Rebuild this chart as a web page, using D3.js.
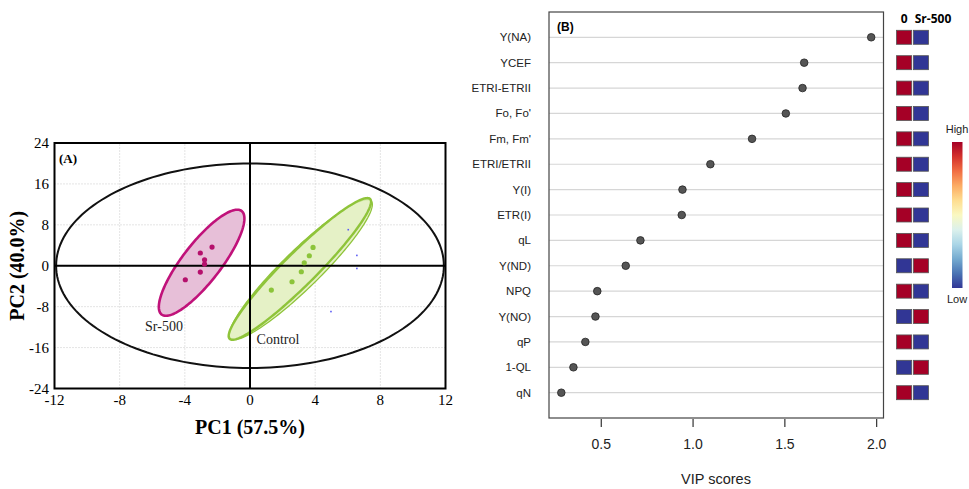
<!doctype html>
<html lang="en">
<head>
<meta charset="utf-8">
<title>PCA scores and VIP scores</title>
<script src="https://cdn.jsdelivr.net/npm/d3@7"></script>
<style>
  body { margin: 0; background: #fff; }
  svg { display: block; }
</style>
</head>
<body>
<svg id="chart" width="969" height="489"></svg>
<script>
// ---- panel A: PCA scores ----
const pcTicksX = [-12, -8, -4, 0, 4, 8, 12];
const pcTicksY = [-24, -16, -8, 0, 8, 16, 24];
const srPoints = [[-2.33, 3.66], [-3.05, 2.49], [-2.79, 1.17], [-2.79, 0.33], [-3.05, -1.23], [-3.97, -2.74]];
const ctrlPoints = [[3.87, 3.58], [3.64, 1.96], [3.33, 0.59], [3.15, -1.17], [2.58, -3.13], [1.31, -4.76]];
const strayPoints = [[6.03, 7.05], [6.56, 2.02], [6.56, -0.53], [4.97, -8.96]];
// ellipse = [centre, conjugate half-axis A, conjugate half-axis B] in data units
const hotelling = [[0, 0], [0, 20], [11.9, 0]];
const srEllipse = [[-2.97, 0.59], [2.19, 10.37], [1.45, 0]];
const ctrlEllipse = [[3.06, -0.62], [4.14, 13.86], [1.4, 0]];
const ctrlEllipse2 = [[3.12, -0.75], [4.08, 13.7], [1.62, 0]];

// ---- panel B: VIP scores ----
const vipNames = ["Y(NA)", "YCEF", "ETRI-ETRII", "Fo, Fo'", "Fm, Fm'", "ETRI/ETRII", "Y(I)", "ETR(I)", "qL", "Y(ND)", "NPQ", "Y(NO)", "qP", "1-QL", "qN"];
const vipScores = [1.973, 1.608, 1.599, 1.508, 1.324, 1.097, 0.945, 0.941, 0.716, 0.636, 0.481, 0.471, 0.416, 0.351, 0.285];
const groups = ["0", "Sr-500"];
// 1 = high, 0 = low relative concentration
const heatControl = [1, 1, 1, 1, 1, 1, 1, 1, 1, 0, 1, 0, 1, 0, 1];
const heatSr = [0, 0, 0, 0, 0, 0, 0, 0, 0, 1, 0, 1, 0, 1, 0];
const vipTicks = [0.5, 1.0, 1.5, 2.0];

const svg = d3.select("#chart");
const serif = "'Liberation Serif', 'DejaVu Serif', serif";
const sans = "'Liberation Sans', Arial, sans-serif";

// ================= Panel A =================
const ax = d3.scaleLinear().domain([-12, 12]).range([54.5, 445.5]);
const ay = d3.scaleLinear().domain([-24, 24]).range([388.5, 143]);
const gA = svg.append("g");

gA.selectAll("line.gx").data(pcTicksX.slice(1, -1)).join("line")
  .attr("x1", d => ax(d)).attr("x2", d => ax(d))
  .attr("y1", ay(-24)).attr("y2", ay(24))
  .attr("stroke", "#c8c8c8").attr("stroke-width", 1).attr("stroke-dasharray", "1,2");
gA.selectAll("line.gy").data(pcTicksY.slice(1, -1)).join("line")
  .attr("y1", d => ay(d)).attr("y2", d => ay(d))
  .attr("x1", ax(-12)).attr("x2", ax(12))
  .attr("stroke", "#c8c8c8").attr("stroke-width", 1).attr("stroke-dasharray", "1,2");

function ellipsePath(e) {
  const [c, A, B] = e;
  const pts = d3.range(0, 2 * Math.PI, Math.PI / 90).map(t => [
    ax(c[0] + Math.cos(t) * A[0] + Math.sin(t) * B[0]),
    ay(c[1] + Math.cos(t) * A[1] + Math.sin(t) * B[1])
  ]);
  return d3.line().curve(d3.curveLinearClosed)(pts);
}

gA.append("path").attr("d", ellipsePath(hotelling))
  .attr("fill", "none").attr("stroke", "#111").attr("stroke-width", 2);

gA.append("path").attr("d", ellipsePath(srEllipse))
  .attr("fill", "#e7bfd8").attr("stroke", "#c0127a").attr("stroke-width", 2.6);
gA.append("path").attr("d", ellipsePath(ctrlEllipse2))
  .attr("fill", "#e5f1c6").attr("stroke", "#8fc43a").attr("stroke-width", 1.3);
gA.append("path").attr("d", ellipsePath(ctrlEllipse))
  .attr("fill", "#e5f1c6").attr("fill-opacity", 0.6).attr("stroke", "#8fc43a").attr("stroke-width", 2.4);

// zero lines
gA.append("line").attr("x1", ax(0)).attr("x2", ax(0)).attr("y1", ay(-24)).attr("y2", ay(24))
  .attr("stroke", "#000").attr("stroke-width", 2);
gA.append("line").attr("y1", ay(0)).attr("y2", ay(0)).attr("x1", ax(-12)).attr("x2", ax(12))
  .attr("stroke", "#000").attr("stroke-width", 2);

gA.selectAll("circle.sr").data(srPoints).join("circle")
  .attr("cx", d => ax(d[0])).attr("cy", d => ay(d[1])).attr("r", 2.6).attr("fill", "#b5106c");
gA.selectAll("circle.ct").data(ctrlPoints).join("circle")
  .attr("cx", d => ax(d[0])).attr("cy", d => ay(d[1])).attr("r", 2.6).attr("fill", "#8cc43a");
gA.selectAll("rect.stray").data(strayPoints).join("rect")
  .attr("x", d => ax(d[0]) - 0.8).attr("y", d => ay(d[1]) - 0.8).attr("width", 1.6).attr("height", 1.6)
  .attr("fill", "#5c5cf5");

// frame
gA.append("rect").attr("x", ax(-12)).attr("y", ay(24))
  .attr("width", ax(12) - ax(-12)).attr("height", ay(-24) - ay(24))
  .attr("fill", "none").attr("stroke", "#000").attr("stroke-width", 2);

gA.selectAll("text.tx").data(pcTicksX).join("text")
  .attr("x", d => ax(d)).attr("y", 405)
  .attr("text-anchor", "middle").attr("font-family", serif).attr("font-size", 15)
  .text(d => d);
gA.selectAll("text.ty").data(pcTicksY).join("text")
  .attr("x", 49).attr("y", d => ay(d) + 5)
  .attr("text-anchor", "end").attr("font-family", serif).attr("font-size", 15)
  .text(d => d);

gA.append("text").attr("x", 59).attr("y", 163)
  .attr("font-family", serif).attr("font-size", 13).attr("font-weight", "bold").text("(A)");
gA.append("text").attr("x", 164).attr("y", 331).attr("text-anchor", "middle")
  .attr("font-family", serif).attr("font-size", 14).attr("fill", "#222").text("Sr-500");
gA.append("text").attr("x", 278).attr("y", 344).attr("text-anchor", "middle")
  .attr("font-family", serif).attr("font-size", 14).attr("fill", "#222").text("Control");

gA.append("text").attr("x", ax(0)).attr("y", 434).attr("text-anchor", "middle")
  .attr("font-family", serif).attr("font-size", 20).attr("font-weight", "bold").text("PC1 (57.5%)");
gA.append("text").attr("transform", `translate(24,${ay(0)}) rotate(-90)`).attr("text-anchor", "middle")
  .attr("font-family", serif).attr("font-size", 20).attr("font-weight", "bold").text("PC2 (40.0%)");

// ================= Panel B =================
const bx = d3.scaleLinear().domain([0.218, 2.04]).range([549, 883.5]);
const by = d3.scalePoint().domain(vipNames).range([37.3, 392.7]);
const gB = svg.append("g");

gB.selectAll("line.row").data(vipNames).join("line")
  .attr("x1", bx.range()[0]).attr("x2", bx.range()[1])
  .attr("y1", d => by(d)).attr("y2", d => by(d))
  .attr("stroke", "#d6d6d6").attr("stroke-width", 1.2);

gB.append("rect").attr("x", 549).attr("y", 12).attr("width", 883.5 - 549).attr("height", 418 - 12)
  .attr("fill", "none").attr("stroke", "#444").attr("stroke-width", 1.2);

gB.selectAll("circle.vip").data(vipNames).join("circle")
  .attr("cx", (d, i) => bx(vipScores[i])).attr("cy", d => by(d)).attr("r", 3.8)
  .attr("fill", "#555").attr("stroke", "#222").attr("stroke-width", 0.8);

gB.selectAll("text.row").data(vipNames).join("text")
  .attr("x", 531).attr("y", d => by(d) + 4)
  .attr("text-anchor", "end").attr("font-family", sans).attr("font-size", 11.5).attr("fill", "#222")
  .text(d => d);

const xAxisB = d3.axisBottom(bx).tickValues(vipTicks).tickFormat(d3.format(".1f")).tickSize(8).tickPadding(12);
const axisG = gB.append("g").attr("transform", "translate(0,419)").call(xAxisB);
axisG.select(".domain").remove();
axisG.selectAll(".tick line").attr("stroke", "#333").attr("stroke-width", 1.2);
axisG.selectAll(".tick text").attr("font-family", sans).attr("font-size", 14).attr("fill", "#222");

gB.append("text").attr("x", 716).attr("y", 484).attr("text-anchor", "middle")
  .attr("font-family", sans).attr("font-size", 14.5).attr("fill", "#222").text("VIP scores");
gB.append("text").attr("x", 557).attr("y", 31)
  .attr("font-family", sans).attr("font-size", 12).attr("font-weight", "bold").text("(B)");

// heat squares
const heatColor = d3.scaleSequential(t => d3.interpolateRdYlBu(1 - t)).domain([0, 1]);
const colX = d3.scaleBand().domain(groups).range([896.5, 928.5]).paddingInner(0.1);
[heatControl, heatSr].forEach((vals, gi) => {
  gB.selectAll(`rect.h${gi}`).data(vipNames).join("rect")
    .attr("x", colX(groups[gi])).attr("y", d => by(d) - 7)
    .attr("width", colX.bandwidth()).attr("height", 14)
    .attr("fill", (d, i) => heatColor(vals[i])).attr("stroke", "#555").attr("stroke-width", 0.8);
});
gB.append("text").attr("x", colX("0") + colX.bandwidth() / 2).attr("y", 23).attr("text-anchor", "middle")
  .attr("font-family", "'Open Sans', sans-serif").attr("font-size", 12).attr("font-weight", "bold").text("0");
gB.append("text").attr("x", 933).attr("y", 23).attr("text-anchor", "middle")
  .attr("font-family", "'Open Sans', sans-serif").attr("font-size", 12).attr("font-weight", "bold").text("Sr-500");

// colour legend
const defs = svg.append("defs");
const grad = defs.append("linearGradient").attr("id", "rdylbu").attr("x1", 0).attr("x2", 0).attr("y1", 0).attr("y2", 1);
d3.range(0, 1.001, 0.1).forEach(t => {
  grad.append("stop").attr("offset", t).attr("stop-color", d3.interpolateRdYlBu(t));
});
gB.append("rect").attr("x", 952).attr("y", 142).attr("width", 10.5).attr("height", 146).attr("fill", "url(#rdylbu)");
gB.append("text").attr("x", 957).attr("y", 133).attr("text-anchor", "middle")
  .attr("font-family", sans).attr("font-size", 11).attr("fill", "#222").text("High");
gB.append("text").attr("x", 957).attr("y", 303).attr("text-anchor", "middle")
  .attr("font-family", sans).attr("font-size", 11).attr("fill", "#222").text("Low");
</script>
</body>
</html>
